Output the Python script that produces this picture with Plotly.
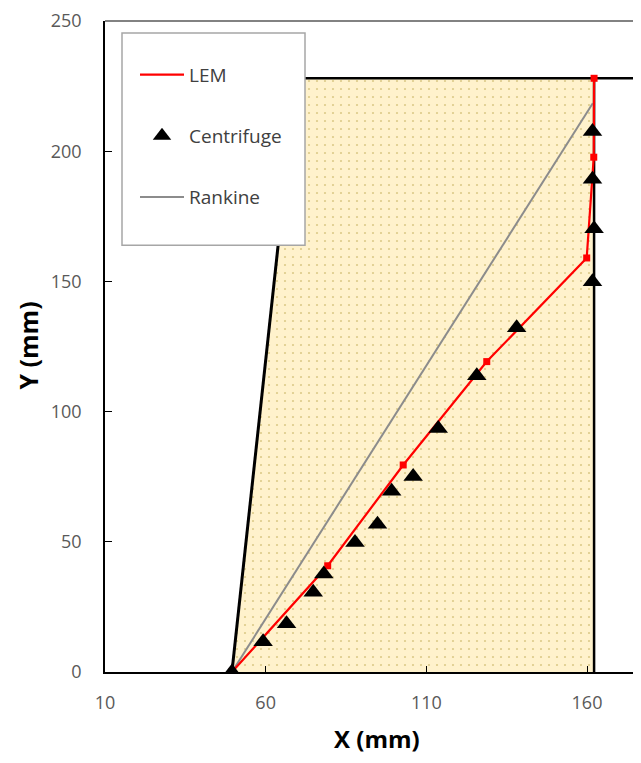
import plotly.graph_objects as go

# ---- data ----
lem_x = [49.5, 79.3, 102.8, 128.8, 159.9, 162.1, 162.2]
lem_y = [0.0, 40.8, 79.5, 119.2, 159.0, 197.7, 228.0]

cent_x = [49.5, 59.2, 66.5, 74.8, 78.1, 87.8, 94.8, 99.2, 105.9, 113.7, 125.7, 138.1,
          161.7, 162.2, 161.7, 161.7]
cent_y = [0.0, 11.6, 18.5, 30.6, 37.6, 49.7, 56.7, 69.4, 75.1, 93.5, 113.8, 132.2,
          149.9, 170.2, 189.2, 207.6]

rank_x = [49.5, 161.8]
rank_y = [0.0, 218.4]

soil_x = [49.5, 69.5, 162.2, 162.2, 49.5]
soil_y = [0.0, 228.0, 228.0, 0.0, 0.0]

left_wall_x = [49.5, 69.5]
left_wall_y = [0.0, 228.0]
right_wall_x = [162.2, 162.2]
right_wall_y = [0.0, 228.0]
ground_x = [69.5, 200.0]
ground_y = [228.0, 228.0]

x_ticks = [10, 60, 110, 160]
y_ticks = [0, 50, 100, 150, 200, 250]
x_range = [10, 176.8]
y_range = [0, 250]

FONT = "Open Sans"
TICK_COLOR = "#595959"

# the page body has an 8px margin on every side: work in page pixels
OFF = 8
W, H = 641 - OFF, 763 - 2 * OFF

fig = go.Figure()

# soil block (dotted fill)
fig.add_trace(go.Scatter(
    x=soil_x, y=soil_y, mode="lines", fill="toself",
    fillcolor="#FFF2CC",
    fillpattern=dict(shape=".", fgcolor="#b8a445", bgcolor="#FFF2CC",
                     size=8, solidity=0.06),
    line=dict(width=0, color="rgba(0,0,0,0)"),
    showlegend=False, hoverinfo="skip"))

for xs, ys, w in [(left_wall_x, left_wall_y, 3), (right_wall_x, right_wall_y, 2.5),
                  (ground_x, ground_y, 2.5)]:
    fig.add_trace(go.Scatter(x=xs, y=ys, mode="lines",
                             line=dict(color="black", width=w),
                             showlegend=False, hoverinfo="skip"))

fig.add_trace(go.Scatter(
    x=rank_x, y=rank_y, mode="lines", name="Rankine",
    line=dict(color="#8c8c8c", width=2),
    legendgroup="c", legendrank=3))

fig.add_trace(go.Scatter(
    x=lem_x, y=lem_y, mode="lines", name="LEM",
    line=dict(color="#FF0000", width=2.2),
    legendgroup="a", legendrank=1))
fig.add_trace(go.Scatter(
    x=lem_x, y=lem_y, mode="markers", name="LEM",
    marker=dict(symbol="square", size=7, color="#FF0000"),
    legendgroup="a", showlegend=False, hoverinfo="skip"))

fig.add_trace(go.Scatter(
    x=cent_x, y=cent_y, mode="markers", name="Centrifuge",
    marker=dict(symbol="triangle-up", size=17, color="black"),
    legendgroup="b", legendrank=2))

# plot area in page pixels
PL, PR, PT, PB = 105, 641, 16, 672
pw, ph = PR - PL, PB - PT


def px2paper_x(p):
    return (p - PL) / pw


def px2paper_y(p):
    return (PB - p) / ph


fig.update_layout(
    width=W, height=H,
    margin=dict(l=PL - OFF, r=0, t=PT - OFF, b=(OFF + H) - PB),
    paper_bgcolor="white", plot_bgcolor="white",
    font=dict(family=FONT, size=18, color=TICK_COLOR),
    showlegend=True,
    legend=dict(
        x=px2paper_x(135), y=px2paper_y(51), xanchor="left", yanchor="top",
        bgcolor="rgba(0,0,0,0)", borderwidth=0,
        traceorder="grouped", tracegroupgap=33.5, itemwidth=44,
        font=dict(family=FONT, size=19, color="#404040"),
    ),
    xaxis=dict(
        range=x_range, tickvals=x_ticks, ticktext=[str(v) for v in x_ticks],
        showgrid=False, zeroline=False,
        showline=True, linecolor="black", linewidth=1.5,
        ticks="inside", ticklen=6, tickcolor="black", tickwidth=1,
        tickfont=dict(family=FONT, size=18, color=TICK_COLOR),
        ticklabelstandoff=14, ticklabeloverflow="allow",
    ),
    yaxis=dict(
        range=y_range, tickvals=y_ticks, ticktext=[str(v) for v in y_ticks],
        showgrid=False, zeroline=False,
        showline=True, linecolor="black", linewidth=1.5,
        ticks="inside", ticklen=7, tickcolor="black", tickwidth=1,
        tickfont=dict(family=FONT, size=18, color=TICK_COLOR),
        ticklabelstandoff=18, ticklabeloverflow="allow",
    ),
    shapes=[
        # top border of plot area
        dict(type="line", xref="paper", yref="paper", x0=0, x1=1, y0=1, y1=1,
             line=dict(color="#595959", width=1.5), layer="above"),
        # legend box
        dict(type="rect", xref="paper", yref="paper",
             x0=px2paper_x(122), x1=px2paper_x(305), y0=px2paper_y(242), y1=px2paper_y(28),
             fillcolor="white", line=dict(color="#a6a6a6", width=1.5), layer="above"),
    ],
    annotations=[
        dict(text="<b>X (mm)</b>", xref="paper", yref="paper",
             x=px2paper_x(377), y=px2paper_y(739), xanchor="center", yanchor="middle",
             showarrow=False, font=dict(family=FONT, size=24, color="black")),
        dict(text="<b>Y (mm)</b>", xref="paper", yref="paper",
             x=px2paper_x(28), y=px2paper_y(343), xanchor="center", yanchor="middle",
             textangle=-90,
             showarrow=False, font=dict(family=FONT, size=25, color="black")),
    ],
)

fig.write_html("out.html")
